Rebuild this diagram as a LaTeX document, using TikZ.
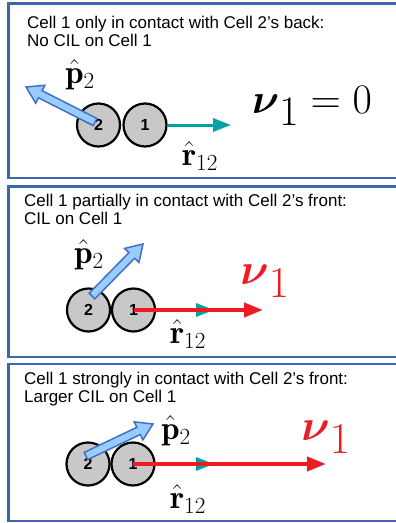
\RequirePackage{fix-cm}
\documentclass[tikz,border=0pt]{standalone}
\usepackage{amsmath}
\usepackage{fontspec}
\setsansfont{Liberation Sans}
\usetikzlibrary{arrows.meta, positioning, calc}

\definecolor{painelazul}{RGB}{59,104,170}
\definecolor{cinzacel}{RGB}{200,200,200}
\definecolor{polfill}{RGB}{153,204,255}
\definecolor{polborda}{RGB}{66,112,196}
\definecolor{tealr}{RGB}{0,163,163}
\definecolor{vermelho}{RGB}{237,28,36}

\tikzset{
  painel/.style={draw=painelazul, line width=2.5pt},
  nota/.style={font=\sffamily\fontsize{17}{18}\selectfont, align=left,
    anchor=north west, inner sep=0pt},
  cel/.style={circle, draw=black, line width=2.2pt, fill=cinzacel,
    minimum size=43pt, inner sep=0pt,
    font=\sffamily\bfseries\fontsize{16}{16}\selectfont},
  polar/.style={draw=polborda, fill=polfill, line width=1.5pt},
  rvec/.style={draw=tealr, line width=3pt, -{Triangle[length=18pt, width=13pt]}},
  nuvec/.style={draw=vermelho, line width=4pt, -{Triangle[length=19pt, width=14pt]}},
  rotulo/.style={font=\fontsize{33}{33}\selectfont, inner sep=0pt},
}

\newcommand{\polvec}[2]{%
  % #1 = cauda, #2 = ponta
  \filldraw[polar]
    ($(#1)!4pt!90:(#2)$) --
    ($(#2)!16pt!(#1)!4pt!-90:(#1)$) --
    ($(#2)!16pt!(#1)!10pt!-90:(#1)$) --
    (#2) --
    ($(#2)!16pt!(#1)!10pt!90:(#1)$) --
    ($(#2)!16pt!(#1)!4pt!90:(#1)$) --
    ($(#1)!4pt!-90:(#2)$) -- cycle;
}

\begin{document}
\begin{tikzpicture}[x=1pt, y=-1pt]

    \clip (0,0) rectangle (396,523);

    % painel 1
    \draw[painel] (400,3.5) -| (8.5,178) -- (400,178);
    \node[nota] (ta) at (27,16) {Cell 1 only in contact with Cell 2’s back:\\No CIL on Cell 1};

    \node[cel] (c2a) at (98.5,125) {2};
    \node[cel] (c1a) at (145,125) {1};
    \coordinate (ra) at (231,125);
    \coordinate (pta) at (95,122);
    \coordinate (pha) at (26,87);

    \draw[rvec] (c1a.east) -- (ra);
    \polvec{pta}{pha}

    \node[rotulo] (pa) at (80,75) {$\hat{\mathbf{p}}_2$};
    \node[rotulo] (rla) at (200,156) {$\hat{\mathbf{r}}_{12}$};
    \node[rotulo, font=\fontsize{42}{42}\selectfont] (nua) at (312,106) {$\boldsymbol{\nu}_{\displaystyle 1} = 0$};

    % painel 2
    \draw[painel] (400,186.5) -| (8.5,357) -- (400,357);
    \node[nota] (tb) at (24,194) {Cell 1 partially in contact with Cell 2’s front:\\CIL on Cell 1};

    \node[cel] (c2b) at (88.5,310) {2};
    \node[cel] (c1b) at (133.5,310) {1};
    \coordinate (rb) at (214,310);
    \coordinate (nb) at (263,310);
    \coordinate (ptb) at (92,296);
    \coordinate (phb) at (143,244);

    \draw[rvec] (c1b.east) -- (rb);
    \draw[nuvec] (c1b.center) -- (nb);
    \polvec{ptb}{phb}

    \node[rotulo] (pb) at (89,255) {$\hat{\mathbf{p}}_2$};
    \node[rotulo] (rlb) at (188,334) {$\hat{\mathbf{r}}_{12}$};
    \node[rotulo, font=\fontsize{44}{44}\selectfont, text=vermelho] (nub) at (265,281) {$\boldsymbol{\nu}_{\displaystyle 1}$};

    % painel 3
    \draw[painel] (400,364) -| (8.5,521) -- (400,521);
    \node[nota] (tc) at (24,372) {Cell 1 strongly in contact with Cell 2’s front:\\Larger CIL on Cell 1};

    \node[cel] (c2c) at (88,464) {2};
    \node[cel] (c1c) at (133,464) {1};
    \coordinate (rc) at (214,464);
    \coordinate (nc) at (326,464);
    \coordinate (ptc) at (86,456);
    \coordinate (phc) at (153,424);

    \draw[rvec] (c1c.east) -- (rc);
    \draw[nuvec] (c1c.center) -- (nc);
    \polvec{ptc}{phc}

    \node[rotulo] (pc) at (176,431) {$\hat{\mathbf{p}}_2$};
    \node[rotulo] (rlc) at (188,499) {$\hat{\mathbf{r}}_{12}$};
    \node[rotulo, font=\fontsize{44}{44}\selectfont, text=vermelho] (nuc) at (326,437) {$\boldsymbol{\nu}_{\displaystyle 1}$};

\end{tikzpicture}
\end{document}
